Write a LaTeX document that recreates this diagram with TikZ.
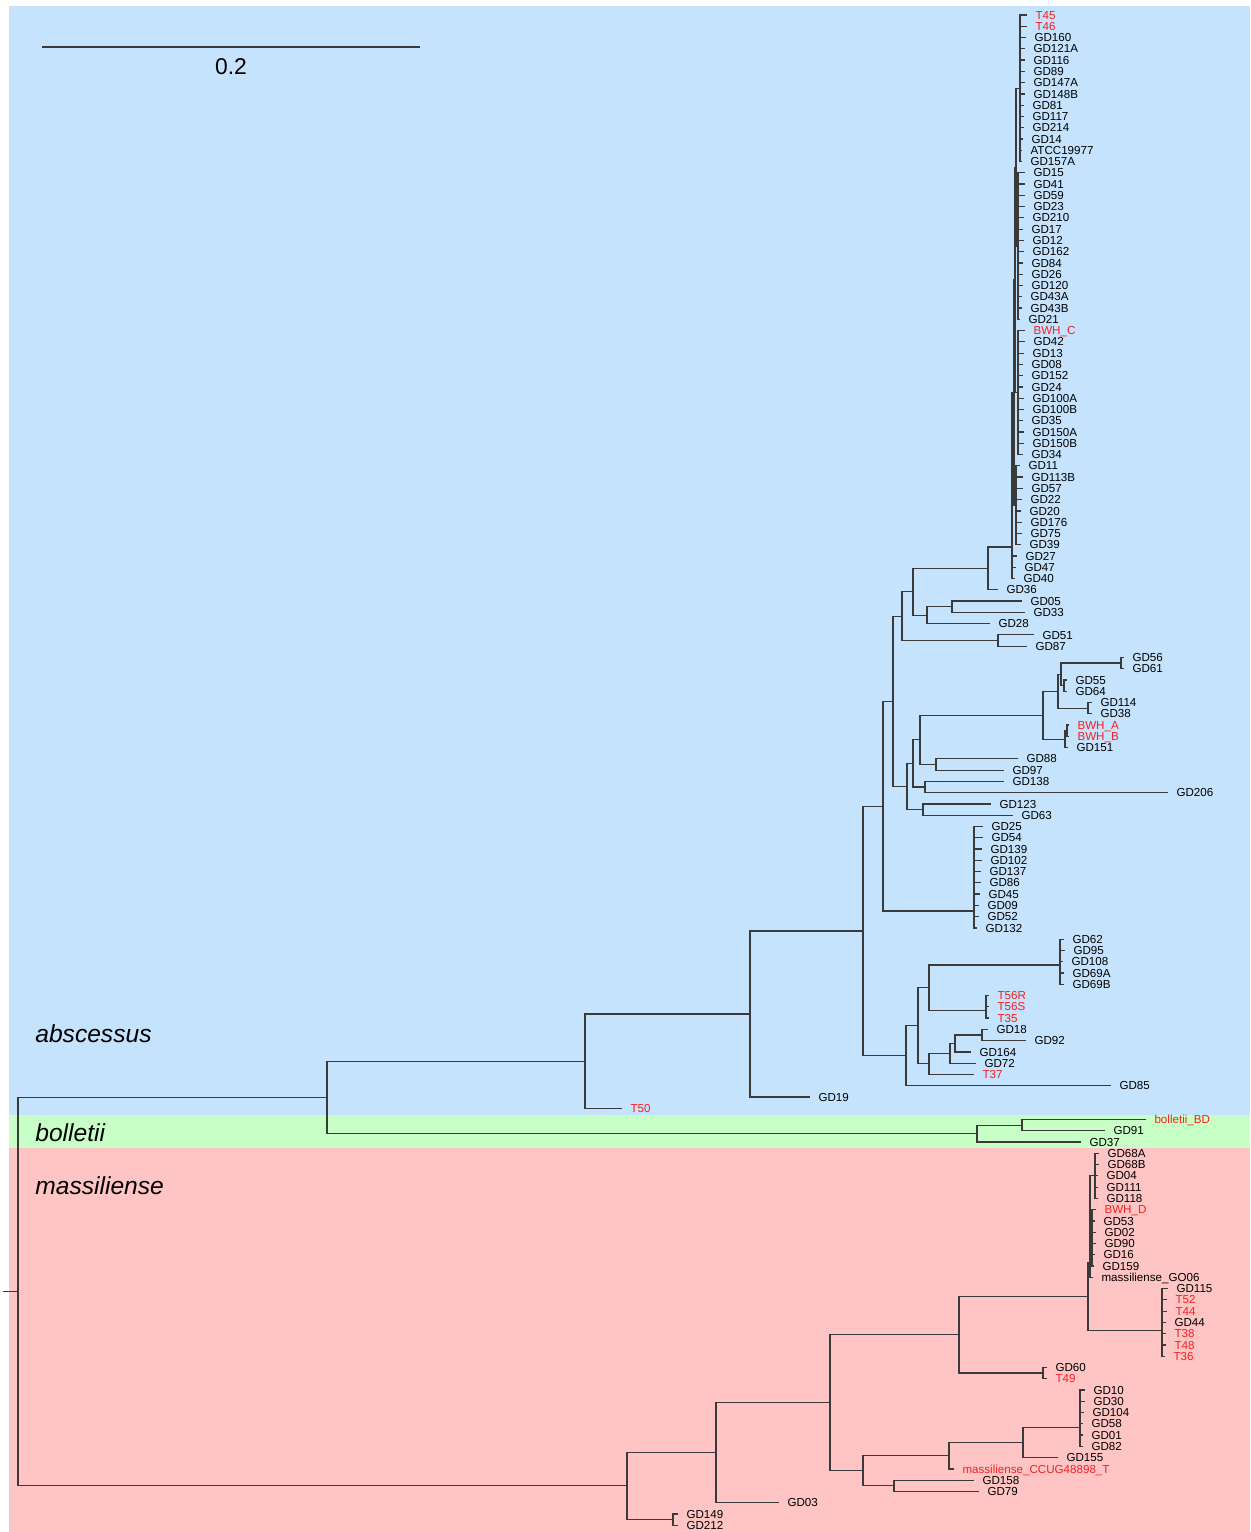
\documentclass[tikz,border=0pt]{standalone}
\usepackage{fontspec}
\setmainfont{Liberation Sans}
\usepackage{xcolor}
\usepackage{tikz}
\definecolor{abscblue}{RGB}{197,227,252}
\definecolor{bollgreen}{RGB}{199,255,199}
\definecolor{massred}{RGB}{255,197,197}
\definecolor{treegray}{RGB}{58,58,58}
\definecolor{isolred}{RGB}{245,32,32}
\tikzset{
  branch/.style={draw=treegray,line width=0.7pt},
  tiplab/.style={anchor=west,inner xsep=1.7mm,inner ysep=0pt,outer sep=0pt,
    font=\fontsize{6.6}{7}\selectfont,text height=4.7pt,text depth=0pt},
  newtip/.style={tiplab,text=isolred},
  cladelab/.style={anchor=west,inner sep=0pt,font=\fontsize{14}{16}\selectfont\itshape}
}

\begin{document}
\begin{tikzpicture}[x=0.2mm,y=-2.254mm]
  \useasboundingbox (0,-0.331) rectangle (1250,135.6);

  % subspecies bands
  \fill[abscblue] (9,0.2) rectangle (1250,98.6);
  \fill[bollgreen] (9,98.6) rectangle (1250,101.53);
  \fill[massred] (9,101.53) rectangle (1250,135.6);

  % scale bar
  \coordinate (sbL) at (42,3.84);
  \coordinate (sbR) at (420,3.84);
  \draw[branch] (sbL) -- (sbR);
  \node[inner sep=0pt,font=\fontsize{13}{15}\selectfont] (sbLab) at (231,5.61) {0.2};

  \node[cladelab] (abscLab) at (35,91.42) {abscessus};
  \node[cladelab] (bollLab) at (35,100.2) {bolletii};
  \node[cladelab] (massLab) at (35,104.9) {massiliense};

  % internal nodes, x in px, y in rows
  \coordinate (rootStub) at (3,114.27);
  \coordinate (root) at (18,114.27);
  \coordinate (absBol) at (327,97.04);
  \coordinate (absc) at (585,93.82);
  \coordinate (n750) at (750,89.64);
  \coordinate (n864) at (863,82.27);
  \coordinate (n883) at (883,71.2);
  \coordinate (n893) at (893,61.9);
  \coordinate (n902) at (902,54.34);
  \coordinate (n913) at (913,52.18);
  \coordinate (n988) at (988,50.1);
  \coordinate (big) at (1012,48.2);
  \coordinate (ABCD) at (1014,34.5);
  \coordinate (ABC) at (1015,24.5);
  \coordinate (AB) at (1016,14.5);
  \coordinate (cA) at (1020,7.5);
  \coordinate (cB) at (1018,21.5);
  \coordinate (cC) at (1018,34.5);
  \coordinate (cD) at (1016,44.5);
  \coordinate (n927) at (927,54.25);
  \coordinate (n952) at (952,53.5);
  \coordinate (n998) at (998,56.5);
  \coordinate (n907) at (907,69.45);
  \coordinate (n913b) at (913,67.4);
  \coordinate (n920) at (920,65.31);
  \coordinate (n1043) at (1043,63.125);
  \coordinate (n1058) at (1058,61.0);
  \coordinate (n1061) at (1061,59.5);
  \coordinate (n1121) at (1121,58.5);
  \coordinate (n1064) at (1064,60.5);
  \coordinate (n1088) at (1088,62.5);
  \coordinate (n1065) at (1065,65.25);
  \coordinate (n1067) at (1067,64.5);
  \coordinate (n936) at (936,67.5);
  \coordinate (n925) at (925,69.5);
  \coordinate (n923) at (923,71.5);
  \coordinate (c975) at (974,80.5);
  \coordinate (n906) at (906,93.34);
  \coordinate (n918) at (918,90.68);
  \coordinate (n929a) at (929,87.3);
  \coordinate (c1060) at (1060,85.3);
  \coordinate (c986) at (986,89.3);
  \coordinate (n929b) at (929,94.06);
  \coordinate (n950) at (950,93.125);
  \coordinate (n955) at (955,92.25);
  \coordinate (n982) at (982,91.5);
  \coordinate (boll) at (977,100.25);
  \coordinate (n1022) at (1022,99.5);
  \coordinate (mass) at (627,131.5);
  \coordinate (n717) at (716,128.56);
  \coordinate (n673) at (673,134.5);
  \coordinate (n830) at (830,124.1);
  \coordinate (n959) at (959,118.08);
  \coordinate (n1088m) at (1088,114.7);
  \coordinate (mu) at (1090,111.7);
  \coordinate (cM1) at (1095,104);
  \coordinate (cM2) at (1092,109.5);
  \coordinate (c1162) at (1162,117.7);
  \coordinate (n1043m) at (1043,121.5);
  \coordinate (n863m) at (863,130.16);
  \coordinate (n949) at (949,128.8);
  \coordinate (n1023) at (1023,127.65);
  \coordinate (c1080) at (1080,126.3);
  \coordinate (n894) at (894,131.5);

  % tips: abscessus
  \node[newtip] (T45) at (1027,1) {T45};
  \node[newtip] (T46) at (1027,2) {T46};
  \node[tiplab] (GD160) at (1026,3) {GD160};
  \node[tiplab] (GD121A) at (1025,4) {GD121A};
  \node[tiplab] (GD116) at (1025,5) {GD116};
  \node[tiplab] (GD89) at (1025,6) {GD89};
  \node[tiplab] (GD147A) at (1025,7) {GD147A};
  \node[tiplab] (GD148B) at (1025,8) {GD148B};
  \node[tiplab] (GD81) at (1024,9) {GD81};
  \node[tiplab] (GD117) at (1024,10) {GD117};
  \node[tiplab] (GD214) at (1024,11) {GD214};
  \node[tiplab] (GD14) at (1023,12) {GD14};
  \node[tiplab] (ATCC) at (1022,13) {ATCC19977};
  \node[tiplab] (GD157A) at (1022,14) {GD157A};
  \node[tiplab] (GD15) at (1025,15) {GD15};
  \node[tiplab] (GD41) at (1025,16) {GD41};
  \node[tiplab] (GD59) at (1025,17) {GD59};
  \node[tiplab] (GD23) at (1025,18) {GD23};
  \node[tiplab] (GD210) at (1024,19) {GD210};
  \node[tiplab] (GD17) at (1023,20) {GD17};
  \node[tiplab] (GD12) at (1024,21) {GD12};
  \node[tiplab] (GD162) at (1024,22) {GD162};
  \node[tiplab] (GD84) at (1023,23) {GD84};
  \node[tiplab] (GD26) at (1023,24) {GD26};
  \node[tiplab] (GD120) at (1023,25) {GD120};
  \node[tiplab] (GD43A) at (1022,26) {GD43A};
  \node[tiplab] (GD43B) at (1022,27) {GD43B};
  \node[tiplab] (GD21) at (1020,28) {GD21};
  \node[newtip] (BWHC) at (1025,29) {BWH\_C};
  \node[tiplab] (GD42) at (1025,30) {GD42};
  \node[tiplab] (GD13) at (1024,31) {GD13};
  \node[tiplab] (GD08) at (1023,32) {GD08};
  \node[tiplab] (GD152) at (1023,33) {GD152};
  \node[tiplab] (GD24) at (1023,34) {GD24};
  \node[tiplab] (GD100A) at (1024,35) {GD100A};
  \node[tiplab] (GD100B) at (1024,36) {GD100B};
  \node[tiplab] (GD35) at (1023,37) {GD35};
  \node[tiplab] (GD150A) at (1024,38) {GD150A};
  \node[tiplab] (GD150B) at (1024,39) {GD150B};
  \node[tiplab] (GD34) at (1023,40) {GD34};
  \node[tiplab] (GD11) at (1020,41) {GD11};
  \node[tiplab] (GD113B) at (1023,42) {GD113B};
  \node[tiplab] (GD57) at (1023,43) {GD57};
  \node[tiplab] (GD22) at (1022,44) {GD22};
  \node[tiplab] (GD20) at (1021,45) {GD20};
  \node[tiplab] (GD176) at (1022,46) {GD176};
  \node[tiplab] (GD75) at (1022,47) {GD75};
  \node[tiplab] (GD39) at (1021,48) {GD39};
  \node[tiplab] (GD27) at (1017,49) {GD27};
  \node[tiplab] (GD47) at (1016,50) {GD47};
  \node[tiplab] (GD40) at (1015,51) {GD40};
  \node[tiplab] (GD36) at (998,52) {GD36};
  \node[tiplab] (GD05) at (1022,53) {GD05};
  \node[tiplab] (GD33) at (1025,54) {GD33};
  \node[tiplab] (GD28) at (990,55) {GD28};
  \node[tiplab] (GD51) at (1034,56) {GD51};
  \node[tiplab] (GD87) at (1027,57) {GD87};
  \node[tiplab] (GD56) at (1124,58) {GD56};
  \node[tiplab] (GD61) at (1124,59) {GD61};
  \node[tiplab] (GD55) at (1067,60) {GD55};
  \node[tiplab] (GD64) at (1067,61) {GD64};
  \node[tiplab] (GD114) at (1092,62) {GD114};
  \node[tiplab] (GD38) at (1092,63) {GD38};
  \node[newtip] (BWHA) at (1069,64) {BWH\_A};
  \node[newtip] (BWHB) at (1069,65) {BWH\_B};
  \node[tiplab] (GD151) at (1068,66) {GD151};
  \node[tiplab] (GD88) at (1018,67) {GD88};
  \node[tiplab] (GD97) at (1004,68) {GD97};
  \node[tiplab] (GD138) at (1004,69) {GD138};
  \node[tiplab] (GD206) at (1168,70) {GD206};
  \node[tiplab] (GD123) at (991,71) {GD123};
  \node[tiplab] (GD63) at (1013,72) {GD63};
  \node[tiplab] (GD25) at (983,73) {GD25};
  \node[tiplab] (GD54) at (983,74) {GD54};
  \node[tiplab] (GD139) at (982,75) {GD139};
  \node[tiplab] (GD102) at (982,76) {GD102};
  \node[tiplab] (GD137) at (981,77) {GD137};
  \node[tiplab] (GD86) at (981,78) {GD86};
  \node[tiplab] (GD45) at (980,79) {GD45};
  \node[tiplab] (GD09) at (979,80) {GD09};
  \node[tiplab] (GD52) at (979,81) {GD52};
  \node[tiplab] (GD132) at (977,82) {GD132};
  \node[tiplab] (GD62) at (1064,83) {GD62};
  \node[tiplab] (GD95) at (1065,84) {GD95};
  \node[tiplab] (GD108) at (1063,85) {GD108};
  \node[tiplab] (GD69A) at (1064,86) {GD69A};
  \node[tiplab] (GD69B) at (1064,87) {GD69B};
  \node[newtip] (T56R) at (989,88) {T56R};
  \node[newtip] (T56S) at (989,89) {T56S};
  \node[newtip] (T35) at (989,90) {T35};
  \node[tiplab] (GD18) at (988,91) {GD18};
  \node[tiplab] (GD92) at (1026,92) {GD92};
  \node[tiplab] (GD164) at (971,93) {GD164};
  \node[tiplab] (GD72) at (976,94) {GD72};
  \node[newtip] (T37) at (974,95) {T37};
  \node[tiplab] (GD85) at (1111,96) {GD85};
  \node[tiplab] (GD19) at (810,97) {GD19};
  \node[newtip] (T50) at (622,98) {T50};

  % tips: bolletii
  \node[newtip] (bolBD) at (1146,99) {bolletii\_BD};
  \node[tiplab] (GD91) at (1105,100) {GD91};
  \node[tiplab] (GD37) at (1081,101) {GD37};

  % tips: massiliense
  \node[tiplab] (GD68A) at (1099,102) {GD68A};
  \node[tiplab] (GD68B) at (1099,103) {GD68B};
  \node[tiplab] (GD04) at (1098,104) {GD04};
  \node[tiplab] (GD111) at (1098,105) {GD111};
  \node[tiplab] (GD118) at (1098,106) {GD118};
  \node[newtip] (BWHD) at (1096,107) {BWH\_D};
  \node[tiplab] (GD53) at (1095,108) {GD53};
  \node[tiplab] (GD02) at (1096,109) {GD02};
  \node[tiplab] (GD90) at (1096,110) {GD90};
  \node[tiplab] (GD16) at (1095,111) {GD16};
  \node[tiplab] (GD159) at (1094,112) {GD159};
  \node[tiplab] (GO06) at (1093,113) {massiliense\_GO06};
  \node[tiplab] (GD115) at (1168,114) {GD115};
  \node[newtip] (T52) at (1167,115) {T52};
  \node[newtip] (T44) at (1167,116) {T44};
  \node[tiplab] (GD44) at (1166,117) {GD44};
  \node[newtip] (T38) at (1166,118) {T38};
  \node[newtip] (T48) at (1166,119) {T48};
  \node[newtip] (T36) at (1165,120) {T36};
  \node[tiplab] (GD60) at (1047,121) {GD60};
  \node[newtip] (T49) at (1047,122) {T49};
  \node[tiplab] (GD10) at (1085,123) {GD10};
  \node[tiplab] (GD30) at (1085,124) {GD30};
  \node[tiplab] (GD104) at (1084,125) {GD104};
  \node[tiplab] (GD58) at (1083,126) {GD58};
  \node[tiplab] (GD01) at (1083,127) {GD01};
  \node[tiplab] (GD82) at (1083,128) {GD82};
  \node[tiplab] (GD155) at (1058,129) {GD155};
  \node[newtip] (CCUG) at (954,130) {massiliense\_CCUG48898\_T};
  \node[tiplab] (GD158) at (974,131) {GD158};
  \node[tiplab] (GD79) at (979,132) {GD79};
  \node[tiplab] (GD03) at (779,133) {GD03};
  \node[tiplab] (GD149) at (678,134) {GD149};
  \node[tiplab] (GD212) at (678,135) {GD212};

  % backbone
  \draw[branch] (rootStub) -- (root);
  \draw[branch] (root) |- (absBol) (root) |- (mass);
  \draw[branch] (absBol) |- (absc) (absBol) |- (boll);
  \draw[branch] (absc) |- (n750) (absc) |- (T50.west);
  \draw[branch] (n750) |- (n864) (n750) |- (GD19.west);
  \draw[branch] (n864) |- (n883) (n864) |- (n906);
  \draw[branch] (n883) |- (n893) (n883) |- (c975);
  \draw[branch] (n893) |- (n902) (n893) |- (n907);
  \draw[branch] (n902) |- (n913) (n902) |- (n998);
  \draw[branch] (n913) |- (n988) (n913) |- (n927);
  \draw[branch] (n988) |- (big) (n988) |- (GD36.west);

  % large abscessus clade
  \draw[branch] (big) |- (ABCD) (big) |- (GD27.west) (big) |- (GD47.west) (big) |- (GD40.west);
  \draw[branch] (ABCD) |- (ABC) (ABCD) |- (cD);
  \draw[branch] (ABC) |- (AB) (ABC) |- (cC);
  \draw[branch] (AB) |- (cA) (AB) |- (cB);
  \draw[branch] (cA) |- (T45.west) (cA) |- (T46.west) (cA) |- (GD160.west)
    (cA) |- (GD121A.west) (cA) |- (GD116.west) (cA) |- (GD89.west)
    (cA) |- (GD147A.west) (cA) |- (GD148B.west) (cA) |- (GD81.west)
    (cA) |- (GD117.west) (cA) |- (GD214.west) (cA) |- (GD14.west)
    (cA) |- (ATCC.west) (cA) |- (GD157A.west);
  \draw[branch] (cB) |- (GD15.west) (cB) |- (GD41.west) (cB) |- (GD59.west)
    (cB) |- (GD23.west) (cB) |- (GD210.west) (cB) |- (GD17.west)
    (cB) |- (GD12.west) (cB) |- (GD162.west) (cB) |- (GD84.west)
    (cB) |- (GD26.west) (cB) |- (GD120.west) (cB) |- (GD43A.west)
    (cB) |- (GD43B.west) (cB) |- (GD21.west);
  \draw[branch] (cC) |- (BWHC.west) (cC) |- (GD42.west) (cC) |- (GD13.west)
    (cC) |- (GD08.west) (cC) |- (GD152.west) (cC) |- (GD24.west)
    (cC) |- (GD100A.west) (cC) |- (GD100B.west) (cC) |- (GD35.west)
    (cC) |- (GD150A.west) (cC) |- (GD150B.west) (cC) |- (GD34.west);
  \draw[branch] (cD) |- (GD11.west) (cD) |- (GD113B.west) (cD) |- (GD57.west)
    (cD) |- (GD22.west) (cD) |- (GD20.west) (cD) |- (GD176.west)
    (cD) |- (GD75.west) (cD) |- (GD39.west);

  \draw[branch] (n927) |- (n952) (n927) |- (GD28.west);
  \draw[branch] (n952) |- (GD05.west) (n952) |- (GD33.west);
  \draw[branch] (n998) |- (GD51.west) (n998) |- (GD87.west);

  \draw[branch] (n907) |- (n913b) (n907) |- (n923);
  \draw[branch] (n913b) |- (n920) (n913b) |- (n925);
  \draw[branch] (n920) |- (n1043) (n920) |- (n936);
  \draw[branch] (n1043) |- (n1058) (n1043) |- (n1065);
  \draw[branch] (n1058) |- (n1061) (n1058) |- (n1088);
  \draw[branch] (n1061) |- (n1121) (n1061) |- (n1064);
  \draw[branch] (n1121) |- (GD56.west) (n1121) |- (GD61.west);
  \draw[branch] (n1064) |- (GD55.west) (n1064) |- (GD64.west);
  \draw[branch] (n1088) |- (GD114.west) (n1088) |- (GD38.west);
  \draw[branch] (n1065) |- (n1067) (n1065) |- (GD151.west);
  \draw[branch] (n1067) |- (BWHA.west) (n1067) |- (BWHB.west);
  \draw[branch] (n936) |- (GD88.west) (n936) |- (GD97.west);
  \draw[branch] (n925) |- (GD138.west) (n925) |- (GD206.west);
  \draw[branch] (n923) |- (GD123.west) (n923) |- (GD63.west);

  \draw[branch] (c975) |- (GD25.west) (c975) |- (GD54.west) (c975) |- (GD139.west)
    (c975) |- (GD102.west) (c975) |- (GD137.west) (c975) |- (GD86.west)
    (c975) |- (GD45.west) (c975) |- (GD09.west) (c975) |- (GD52.west)
    (c975) |- (GD132.west);

  \draw[branch] (n906) |- (n918) (n906) |- (GD85.west);
  \draw[branch] (n918) |- (n929a) (n918) |- (n929b);
  \draw[branch] (n929a) |- (c1060) (n929a) |- (c986);
  \draw[branch] (c1060) |- (GD62.west) (c1060) |- (GD95.west) (c1060) |- (GD108.west)
    (c1060) |- (GD69A.west) (c1060) |- (GD69B.west);
  \draw[branch] (c986) |- (T56R.west) (c986) |- (T56S.west) (c986) |- (T35.west);
  \draw[branch] (n929b) |- (n950) (n929b) |- (T37.west);
  \draw[branch] (n950) |- (n955) (n950) |- (GD72.west);
  \draw[branch] (n955) |- (n982) (n955) |- (GD164.west);
  \draw[branch] (n982) |- (GD18.west) (n982) |- (GD92.west);

  % bolletii
  \draw[branch] (boll) |- (n1022) (boll) |- (GD37.west);
  \draw[branch] (n1022) |- (bolBD.west) (n1022) |- (GD91.west);

  % massiliense
  \draw[branch] (mass) |- (n717) (mass) |- (n673);
  \draw[branch] (n673) |- (GD149.west) (n673) |- (GD212.west);
  \draw[branch] (n717) |- (n830) (n717) |- (GD03.west);
  \draw[branch] (n830) |- (n959) (n830) |- (n863m);
  \draw[branch] (n959) |- (n1088m) (n959) |- (n1043m);
  \draw[branch] (n1088m) |- (mu) (n1088m) |- (c1162);
  \draw[branch] (mu) |- (cM1) (mu) |- (cM2) (mu) |- (GO06.west);
  \draw[branch] (cM1) |- (GD68A.west) (cM1) |- (GD68B.west) (cM1) |- (GD04.west)
    (cM1) |- (GD111.west) (cM1) |- (GD118.west);
  \draw[branch] (cM2) |- (BWHD.west) (cM2) |- (GD53.west) (cM2) |- (GD02.west)
    (cM2) |- (GD90.west) (cM2) |- (GD16.west) (cM2) |- (GD159.west);
  \draw[branch] (c1162) |- (GD115.west) (c1162) |- (T52.west) (c1162) |- (T44.west)
    (c1162) |- (GD44.west) (c1162) |- (T38.west) (c1162) |- (T48.west)
    (c1162) |- (T36.west);
  \draw[branch] (n1043m) |- (GD60.west) (n1043m) |- (T49.west);
  \draw[branch] (n863m) |- (n949) (n863m) |- (n894);
  \draw[branch] (n949) |- (n1023) (n949) |- (CCUG.west);
  \draw[branch] (n1023) |- (c1080) (n1023) |- (GD155.west);
  \draw[branch] (c1080) |- (GD10.west) (c1080) |- (GD30.west) (c1080) |- (GD104.west)
    (c1080) |- (GD58.west) (c1080) |- (GD01.west) (c1080) |- (GD82.west);
  \draw[branch] (n894) |- (GD158.west) (n894) |- (GD79.west);
\end{tikzpicture}
\end{document}
